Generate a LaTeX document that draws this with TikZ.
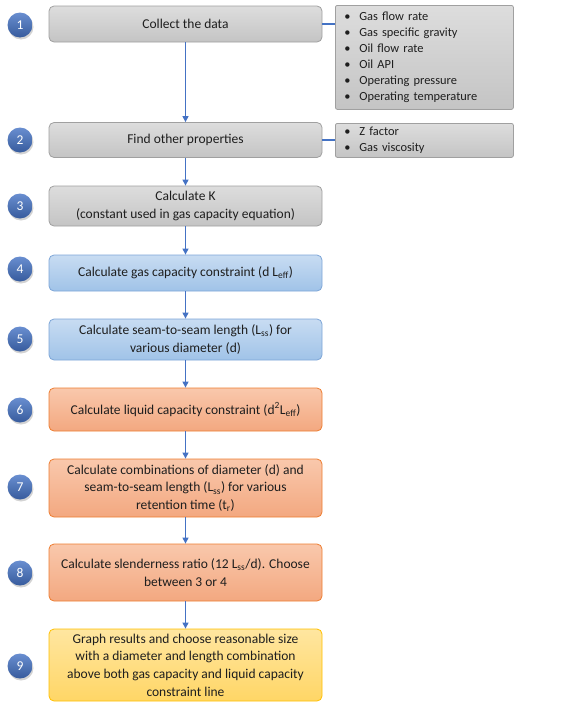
\documentclass[tikz,border=0pt]{standalone}
\usepackage{fontspec}
\setmainfont{Carlito}
\usetikzlibrary{arrows.meta, positioning, shadows}
\definecolor{flowblue}{RGB}{68, 114, 196}
\definecolor{graytop}{RGB}{221, 221, 221}
\definecolor{graybot}{RGB}{196, 196, 196}
\definecolor{grayline}{RGB}{160, 160, 160}
\definecolor{bluetop}{RGB}{200, 220, 242}
\definecolor{bluebot}{RGB}{160, 195, 232}
\definecolor{blueline}{RGB}{125, 165, 215}
\definecolor{orangetop}{RGB}{249, 200, 172}
\definecolor{orangebot}{RGB}{243, 168, 128}
\definecolor{orangeline}{RGB}{237, 125, 49}
\definecolor{yellowtop}{RGB}{255, 230, 160}
\definecolor{yellowbot}{RGB}{255, 214, 102}
\definecolor{yellowline}{RGB}{255, 192, 0}
\definecolor{inktext}{RGB}{30, 30, 30}
\newcommand{\bulletline}[1]{\makebox[18pt][l]{\hspace{3pt}\textbullet}#1}

\tikzset{
  stepbox/.style={rounded corners=5pt, minimum width=273pt, align=center, text=inktext,
    font=\fontsize{13.5}{17.7}\selectfont, inner sep=2pt, line width=0.8pt},
  graystep/.style={stepbox, draw=grayline, top color=graytop, bottom color=graybot},
  bluestep/.style={stepbox, draw=blueline, top color=bluetop, bottom color=bluebot},
  orangestep/.style={stepbox, draw=orangeline, top color=orangetop, bottom color=orangebot},
  yellowstep/.style={stepbox, draw=yellowline, top color=yellowtop, bottom color=yellowbot},
  listbox/.style={draw=grayline, rounded corners=2pt, top color=graytop, bottom color=graybot,
    anchor=north west, minimum width=178pt, text width=166pt, align=left, inner xsep=6pt,
    text=inktext, font=\fontsize{12.4}{16}\selectfont, line width=0.8pt},
  numdot/.style={circle, top color=flowblue!80!white, bottom color=flowblue!80!black,
    minimum size=25pt, inner sep=0pt, text=white, font=\fontsize{13.5}{13.5}\selectfont,
    drop shadow={opacity=0.35, shadow xshift=1pt, shadow yshift=-2pt}},
  flow/.style={-{Triangle[length=6pt, width=6pt]}, flowblue, line width=1.3pt},
  link/.style={flowblue, line width=2.6pt}
}

\begin{document}
\begin{tikzpicture}[x=1pt, y=-1pt]
    \useasboundingbox (0, 0) rectangle (573, 707);

    % Steps
    \node[graystep, minimum height=36pt] (collect) at (185.5, 24) {Collect the data};
    \node[graystep, minimum height=35pt] (props) at (185.5, 140) {Find other properties};
    \node[graystep, minimum height=40pt] (kconst) at (185.5, 206) {Calculate K\\(constant used in gas capacity equation)};
    \node[bluestep, minimum height=36pt] (gascap) at (185.5, 273) {Calculate gas capacity constraint (d L\textsubscript{eff})};
    \node[bluestep, minimum height=41pt] (seam) at (185.5, 339.5) {Calculate seam-to-seam length (L\textsubscript{ss}) for\\various diameter (d)};
    \node[orangestep, minimum height=43pt] (liqcap) at (185.5, 409.5) {Calculate liquid capacity constraint (d\textsuperscript{2}L\textsubscript{eff})};
    \node[orangestep, minimum height=58pt] (combo) at (185.5, 488) {Calculate combinations of diameter (d) and\\seam-to-seam length (L\textsubscript{ss}) for various\\retention time (t\textsubscript{r})};
    \node[orangestep, minimum height=57pt] (slender) at (185.5, 572.5) {Calculate slenderness ratio (12 L\textsubscript{ss}/d). Choose\\between 3 or 4};
    \node[yellowstep, minimum height=72pt] (graph) at (185.5, 665) {Graph results and choose reasonable size\\with a diameter and length combination\\above both gas capacity and liquid capacity\\constraint line};

    % Data lists
    \node[listbox, minimum height=104pt] (datalist) at (335, 5) {\bulletline{Gas flow rate}\\\bulletline{Gas specific gravity}\\\bulletline{Oil flow rate}\\\bulletline{Oil API}\\\bulletline{Operating pressure}\\\bulletline{Operating temperature}};
    \node[listbox, minimum height=34pt] (proplist) at (335, 123) {\bulletline{Z factor}\\\bulletline{Gas viscosity}};

    % Numbers
    \foreach \n/\y in {1/25, 2/140, 3/206, 4/269, 5/339, 6/410, 7/487, 8/573, 9/666}
        \node[numdot] (num\n) at (20, \y) {\n};

    % Connectors
    \draw[link] (collect.east) -- (datalist.west |- collect.east);
    \draw[link] (props.east) -- (proplist.west |- props.east);
    \draw[flow] (collect) -- (props);
    \draw[flow] (props) -- (kconst);
    \draw[flow] (kconst) -- (gascap);
    \draw[flow] (gascap) -- (seam);
    \draw[flow] (seam) -- (liqcap);
    \draw[flow] (liqcap) -- (combo);
    \draw[flow] (combo) -- (slender);
    \draw[flow] (slender) -- (graph);
\end{tikzpicture}
\end{document}
